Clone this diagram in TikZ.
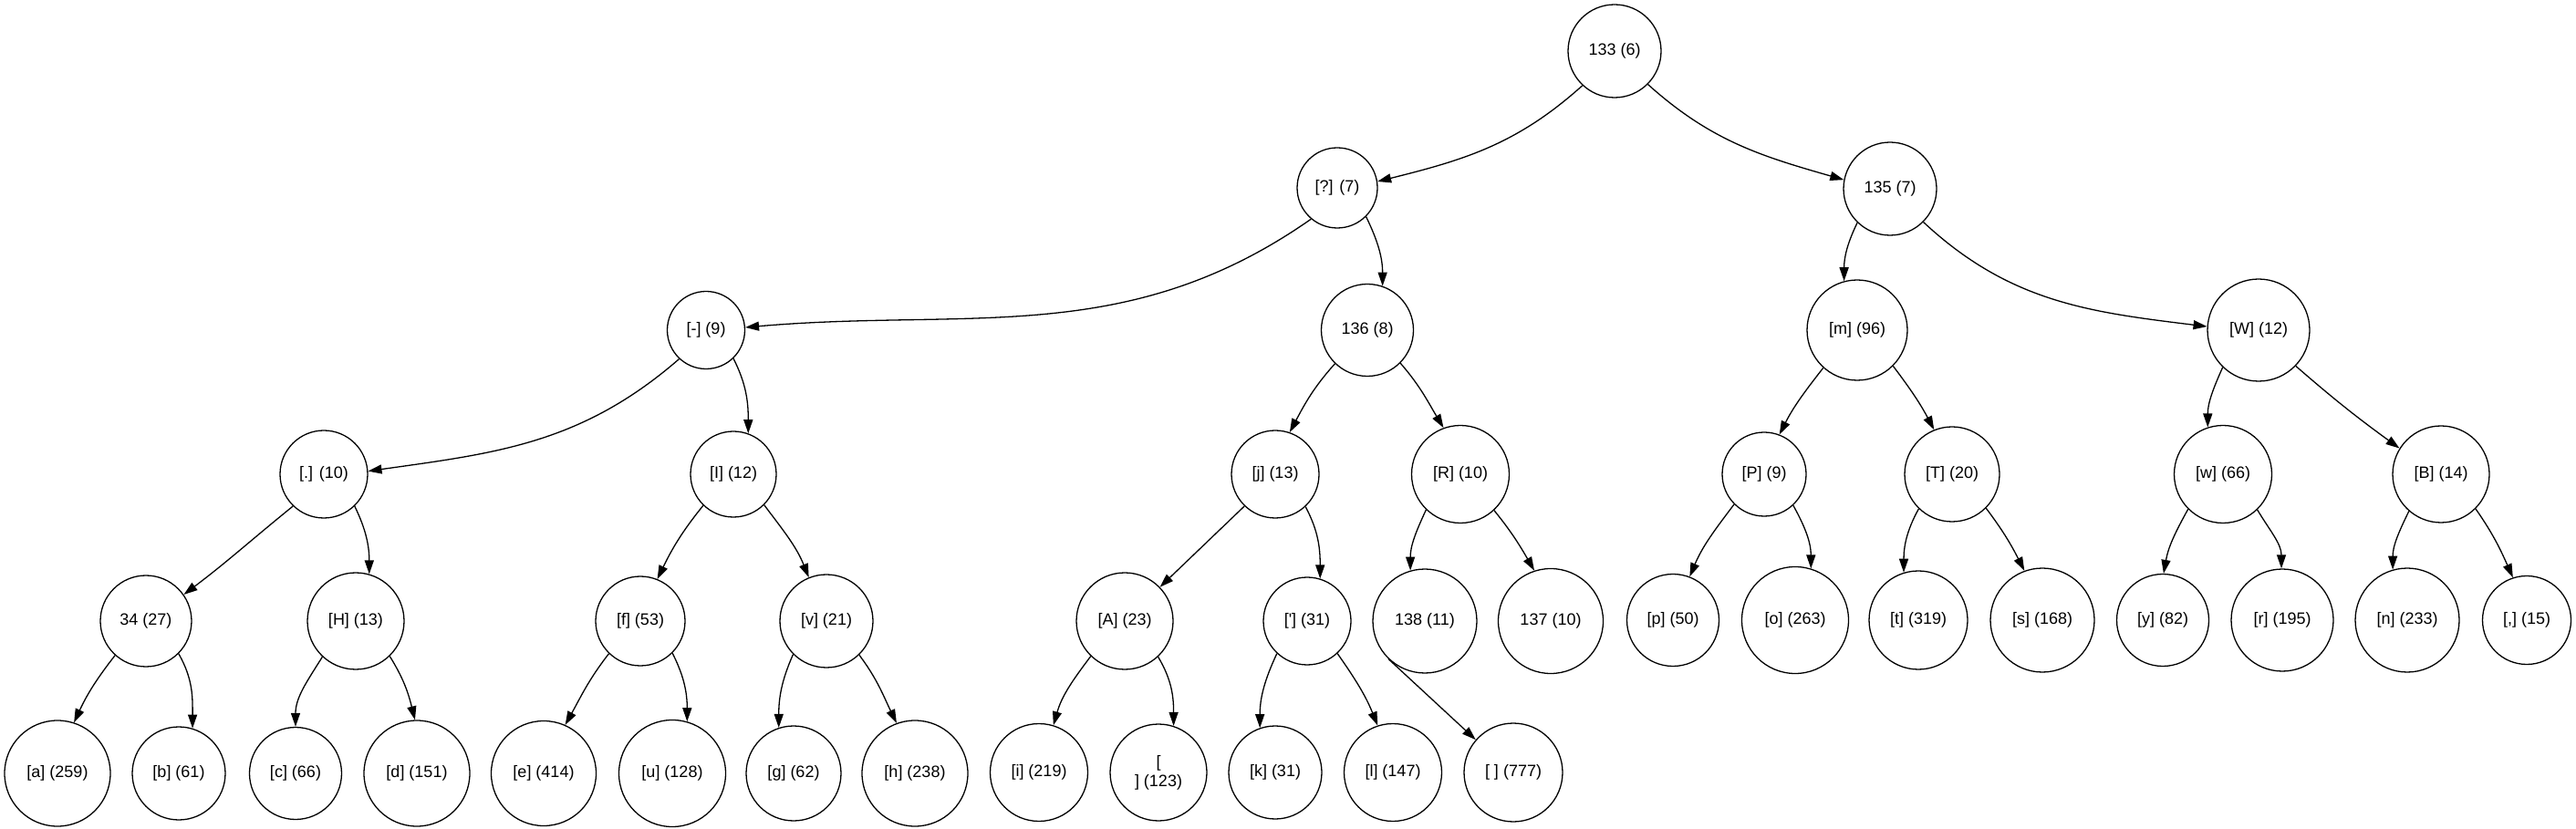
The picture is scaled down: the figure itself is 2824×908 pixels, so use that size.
\documentclass[tikz,border=0pt]{standalone}
\usepackage{fontspec}
\setmainfont{Liberation Sans}
\usetikzlibrary{arrows.meta}
\begin{document}
\begin{tikzpicture}[x=1pt,y=1pt,
  nd/.style={circle,draw,line width=1.3pt,inner sep=0pt,align=center,font=\fontsize{18pt}{21pt}\selectfont},
  ed/.style={draw,line width=1.3pt,-{Triangle[length=15pt,width=10pt]}}]
\useasboundingbox (0,0) rectangle (2824,908);
% row 0
\node[nd,minimum size=102pt] (n133) at (1770,852) {133 (6)};
% row 1
\node[nd,minimum size=88pt] (nQ) at (1466,702) {[?] (7)};
\node[nd,minimum size=102pt] (n135) at (2072,701) {135 (7)};
% row 2
\node[nd,minimum size=85pt] (nDash) at (774,546) {[-] (9)};
\node[nd,minimum size=101pt] (n136) at (1499,546) {136 (8)};
\node[nd,minimum size=110pt] (nm) at (2036,546) {[m] (96)};
\node[nd,minimum size=112pt] (nW) at (2476,546) {[W] (12)};
% row 3
\node[nd,minimum size=96pt] (nDot) at (355,388) {[.] (10)};
\node[nd,minimum size=94pt] (nI) at (804,388) {[I] (12)};
\node[nd,minimum size=96pt] (nj) at (1398,388) {[j] (13)};
\node[nd,minimum size=107pt] (nR) at (1601,388) {[R] (10)};
\node[nd,minimum size=92pt] (nP) at (1934,388) {[P] (9)};
\node[nd,minimum size=104pt] (nT) at (2140,388) {[T] (20)};
\node[nd,minimum size=107pt] (nw) at (2437,388) {[w] (66)};
\node[nd,minimum size=106pt] (nB) at (2676,388) {[B] (14)};
% row 4
\node[nd,minimum size=100pt] (n34) at (160,227) {34 (27)};
\node[nd,minimum size=106pt] (nH) at (390,227) {[H] (13)};
\node[nd,minimum size=98pt] (nf) at (702,227) {[f] (53)};
\node[nd,minimum size=102pt] (nv) at (906,227) {[v] (21)};
\node[nd,minimum size=106pt] (nA) at (1233,227) {[A] (23)};
\node[nd,minimum size=96pt] (nAp) at (1433,227) {[\textquotesingle] (31)};
\node[nd,minimum size=114pt] (n138) at (1562,227) {138 (11)};
\node[nd,minimum size=115pt] (n137) at (1700,227) {137 (10)};
\node[nd,minimum size=101pt] (np) at (1834,228) {[p] (50)};
\node[nd,minimum size=117pt] (no) at (1968,228) {[o] (263)};
\node[nd,minimum size=108pt] (nt) at (2103,228) {[t] (319)};
\node[nd,minimum size=114pt] (ns) at (2239,228) {[s] (168)};
\node[nd,minimum size=101pt] (ny) at (2371,228) {[y] (82)};
\node[nd,minimum size=112pt] (nr) at (2502,228) {[r] (195)};
\node[nd,minimum size=114pt] (nn) at (2639,228) {[n] (233)};
\node[nd,minimum size=97pt] (ncm) at (2770,228) {[,] (15)};
% row 5
\node[nd,minimum size=116pt] (na) at (63,60) {[a] (259)};
\node[nd,minimum size=102pt] (nb) at (196,60) {[b] (61)};
\node[nd,minimum size=101pt] (nc) at (324,60) {[c] (66)};
\node[nd,minimum size=116pt] (nd) at (457,60) {[d] (151)};
\node[nd,minimum size=115pt] (ne) at (596,60) {[e] (414)};
\node[nd,minimum size=117pt] (nu) at (737,60) {[u] (128)};
\node[nd,minimum size=104pt] (ng) at (870,60) {[g] (62)};
\node[nd,minimum size=116pt] (nh) at (1003,60) {[h] (238)};
\node[nd,minimum size=107pt] (ni) at (1139,61) {[i] (219)};
\node[nd,minimum size=106pt] (nnl) at (1270,61) {[\\] (123)};
\node[nd,minimum size=102pt] (nk) at (1398,61) {[k] (31)};
\node[nd,minimum size=107pt] (nl) at (1527,61) {[l] (147)};
\node[nd,minimum size=108pt] (nsp) at (1659,61) {[ ] (777)};
% edges
\draw[ed] (n133.227) to[out=222,in=14] (nQ.9);
\draw[ed] (n133.315) to[out=318,in=164] (n135.169);
\draw[ed] (nQ.230) to[out=215,in=5] (nDash.4);
\draw[ed] (nQ.315) to[out=296,in=90] (n136.71);
\draw[ed] (n135.226) to[out=244,in=90] (nm.105);
\draw[ed] (n135.315) to[out=317,in=173] (nW.176);
\draw[ed] (nDash.227) to[out=221,in=8] (nDot.4);
\draw[ed] (nDash.314) to[out=297,in=90] (nI.70);
\draw[ed] (n136.226) to[out=228,in=62] (nj.71);
\draw[ed] (n136.315) to[out=311,in=121] (nR.110);
\draw[ed] (nm.228) to[out=232,in=63] (nP.69);
\draw[ed] (nm.315) to[out=307,in=118] (nT.112);
\draw[ed] (nW.226) to[out=246,in=90] (nw.108);
\draw[ed] (nW.316) to[out=319,in=144] (nB.148);
\draw[ed] (nDot.226) to[out=219,in=37] (n34.35);
\draw[ed] (nDot.314) to[out=296,in=90] (nH.74);
\draw[ed] (nI.226) to[out=231,in=64] (nf.68);
\draw[ed] (nI.315) to[out=307,in=112] (nv.112);
\draw[ed] (n34.228) to[out=232,in=65] (na.72);
\draw[ed] (n34.315) to[out=300,in=90] (nb.73);
\draw[ed] (nH.227) to[out=238,in=90] (nc.90);
\draw[ed] (nH.314) to[out=302,in=104] (nd.92);
\draw[ed] (nf.226) to[out=232,in=61] (ne.66);
\draw[ed] (nf.315) to[out=297,in=90] (nu.74);
\draw[ed] (nv.225) to[out=246,in=90] (ng.108);
\draw[ed] (nv.314) to[out=307,in=116] (nh.110);
\draw[ed] (nj.226) -- (nA.44);
\draw[ed] (nj.313) to[out=298,in=90] (nAp.73);
\draw[ed] (nR.226) to[out=245,in=90] (n138.106);
\draw[ed] (nR.313) to[out=309,in=120] (n137.108);
\draw[ed] (nA.226) to[out=233,in=74] (ni.73);
\draw[ed] (nA.313) to[out=301,in=90] (nnl.72);
\draw[ed] (nAp.227) to[out=245,in=90] (nk.109);
\draw[ed] (nAp.313) to[out=305,in=112] (nl.108);
\draw[ed] (n138.226) -- (nsp.139);
\draw[ed] (nP.225) to[out=233,in=67] (np.69);
\draw[ed] (nP.313) to[out=299,in=90] (no.73);
\draw[ed] (nT.226) to[out=241,in=90] (nt.107);
\draw[ed] (nT.315) to[out=307,in=117] (ns.110);
\draw[ed] (nw.225) to[out=241,in=80] (ny.89);
\draw[ed] (nw.314) to[out=301,in=90] (nr.91);
\draw[ed] (nB.229) to[out=244,in=90] (nn.106);
\draw[ed] (nB.315) to[out=305,in=114] (ncm.108);
\end{tikzpicture}
\end{document}
